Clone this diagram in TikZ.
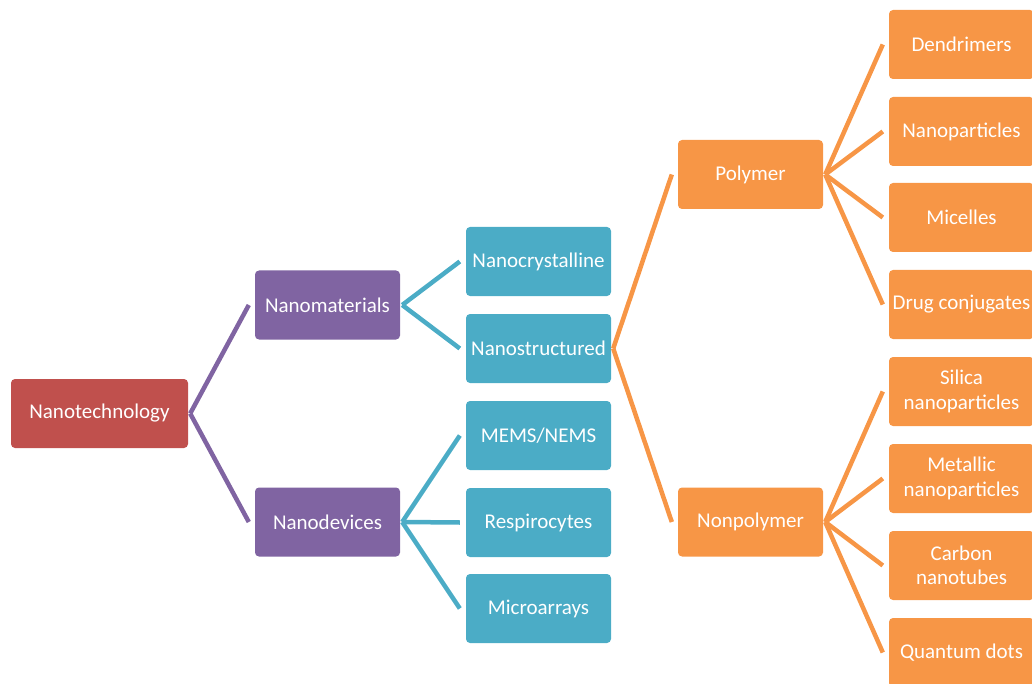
\documentclass[tikz,border=0pt]{standalone}
\usepackage{fontspec}
\setmainfont{Carlito}
\usetikzlibrary{calc}
\definecolor{cred}{HTML}{C0504D}
\definecolor{cpurple}{HTML}{8064A2}
\definecolor{cteal}{HTML}{4BACC6}
\definecolor{corange}{HTML}{F79646}
\tikzset{
  box/.style={rounded corners=4pt, minimum width=145pt, minimum height=69pt,
    inner sep=1pt, text=white, align=center,
    font=\fontsize{21}{24.5}\selectfont},
  link/.style={line width=4.5pt, line cap=butt},
}
\begin{document}
\begin{tikzpicture}[x=1pt,y=-1pt]
\useasboundingbox (0,0) rectangle (1032,684);
% level 1
\node[box, fill=cred, minimum width=177pt] (tech) at (99.5,413.5) {Nanotechnology};
% level 2
\node[box, fill=cpurple] (mat) at (327.5,305) {Nanomaterials};
\node[box, fill=cpurple] (dev) at (327.5,522) {Nanodevices};
% level 3
\node[box, fill=cteal] (cry) at (538.5,261.5) {Nanocrystalline};
\node[box, fill=cteal] (str) at (538.5,348.5) {Nanostructured};
\node[box, fill=cteal] (mems) at (538.5,435.5) {MEMS/NEMS};
\node[box, fill=cteal] (resp) at (538.5,522.5) {Respirocytes};
\node[box, fill=cteal] (micro) at (538.5,608.5) {Microarrays};
% level 4
\node[box, fill=corange] (poly) at (750.5,174.5) {Polymer};
\node[box, fill=corange] (nonp) at (750.5,522) {Nonpolymer};
% level 5
\node[box, fill=corange] (den) at (961.5,44.5) {Dendrimers};
\node[box, fill=corange] (nano) at (961.5,131.5) {Nanoparticles};
\node[box, fill=corange] (mic) at (961.5,217.5) {Micelles};
\node[box, fill=corange] (drug) at (961.5,304.5) {Drug conjugates};
\node[box, fill=corange] (sil) at (961.5,391.5) {Silica\\nanoparticles};
\node[box, fill=corange] (met) at (961.5,478.5) {Metallic\\nanoparticles};
\node[box, fill=corange] (carb) at (961.5,565.5) {Carbon\\nanotubes};
\node[box, fill=corange] (qd) at (961.5,652.5) {Quantum dots};
% connectors
\foreach \p/\c/\col in {tech/mat/cpurple, tech/dev/cpurple,
    mat/cry/cteal, mat/str/cteal,
    dev/mems/cteal, dev/resp/cteal, dev/micro/cteal,
    str/poly/corange, str/nonp/corange,
    poly/den/corange, poly/nano/corange, poly/mic/corange, poly/drug/corange,
    nonp/sil/corange, nonp/met/corange, nonp/carb/corange, nonp/qd/corange}
  \draw[link, draw=\col] ($(\p.east)+(2,0)$) -- ($(\c.west)+(-6,0)$);
\end{tikzpicture}
\end{document}
